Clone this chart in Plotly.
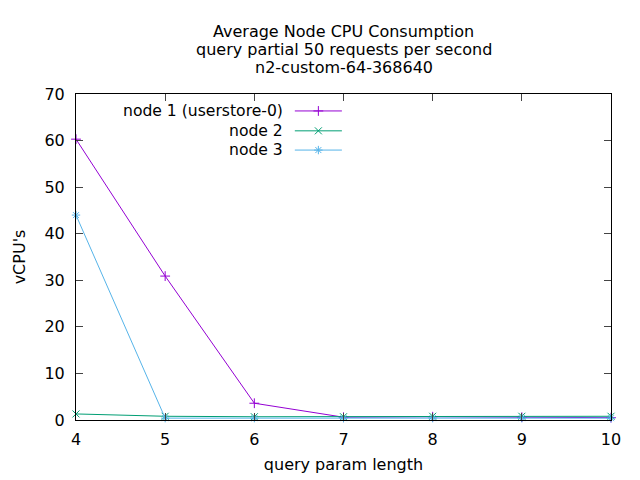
import plotly.graph_objects as go

x_vals = [4, 5, 6, 7, 8, 9, 10]
node1 = [60.3, 30.9, 3.6, 0.6, 0.7, 0.6, 0.5]
node2 = [1.3, 0.8, 0.7, 0.7, 0.8, 0.8, 0.8]
node3 = [44.0, 0.4, 0.4, 0.4, 0.4, 0.4, 0.4]
names = ["node 1 (userstore-0)", "node 2", "node 3"]
colors = ["#9400d3", "#009e73", "#56b4e9"]
symbols = ["cross-thin-open", "x-thin-open", "asterisk-open"]
title_lines = ["Average Node CPU Consumption", "query partial 50 requests per second", "n2-custom-64-368640"]

FONT = "DejaVu Sans"
FS = 16
MS = 7
fig = go.Figure()
for ys, nm, c, s in zip([node1, node2, node3], names, colors, symbols):
    fig.add_trace(go.Scatter(x=x_vals, y=ys, mode="lines+markers", name=nm,
                             line=dict(color=c, width=1),
                             marker=dict(symbol=s, size=MS, color=c, line=dict(color=c, width=1)),
                             showlegend=False, cliponaxis=False))

# custom gnuplot-style legend (text right-aligned, sample on the right)
leg_y = [0.948, 0.887, 0.828]
for nm, c, s, yy in zip(names, colors, symbols, leg_y):
    fig.add_trace(go.Scatter(x=[0.409, 0.453, 0.497], y=[yy, yy, yy], xaxis="x2", yaxis="y2",
                             mode="lines", line=dict(color=c, width=1),
                             showlegend=False, hoverinfo="skip"))
    fig.add_trace(go.Scatter(x=[0.453], y=[yy], xaxis="x2", yaxis="y2",
                             mode="markers",
                             marker=dict(symbol=s, size=MS, color=c, line=dict(color=c, width=1)),
                             showlegend=False, hoverinfo="skip"))
    fig.add_annotation(x=0.391, y=yy, xref="paper", yref="paper", text=nm, showarrow=False,
                       xanchor="right", yanchor="middle", font=dict(family=FONT, size=15.6, color="black"))

title_y = [1.193, 1.138, 1.080]
for t, ty in zip(title_lines, title_y):
    fig.add_annotation(x=0.5, y=ty, xref="paper", yref="paper", text=t, showarrow=False,
                       xanchor="center", yanchor="middle", font=dict(family=FONT, size=FS, color="black"))

fig.update_layout(
    width=640, height=480,
    paper_bgcolor="white", plot_bgcolor="white",
    margin=dict(l=68, r=37, t=86, b=68, autoexpand=False),
    font=dict(family=FONT, size=FS, color="black"),
    xaxis=dict(range=[4, 10], tickvals=x_vals, ticks="inside", ticklen=7, mirror="ticks",
               showline=True, linecolor="black", linewidth=1, showgrid=False, zeroline=False,
               ticklabelstandoff=5, automargin=False,
               title=dict(text="query param length", standoff=10, font=dict(size=FS)),
               tickfont=dict(size=FS)),
    yaxis=dict(range=[0, 70], dtick=10, ticks="inside", ticklen=7, mirror="ticks",
               showline=True, linecolor="black", linewidth=1, showgrid=False, zeroline=False,
               ticklabelstandoff=7, automargin=False,
               title=dict(text="vCPU's", standoff=14, font=dict(size=FS)),
               tickfont=dict(size=FS)),
    xaxis2=dict(range=[0, 1], overlaying="x", visible=False, fixedrange=True),
    yaxis2=dict(range=[0, 1], overlaying="y", visible=False, fixedrange=True),
)
fig.write_html("out.html")
